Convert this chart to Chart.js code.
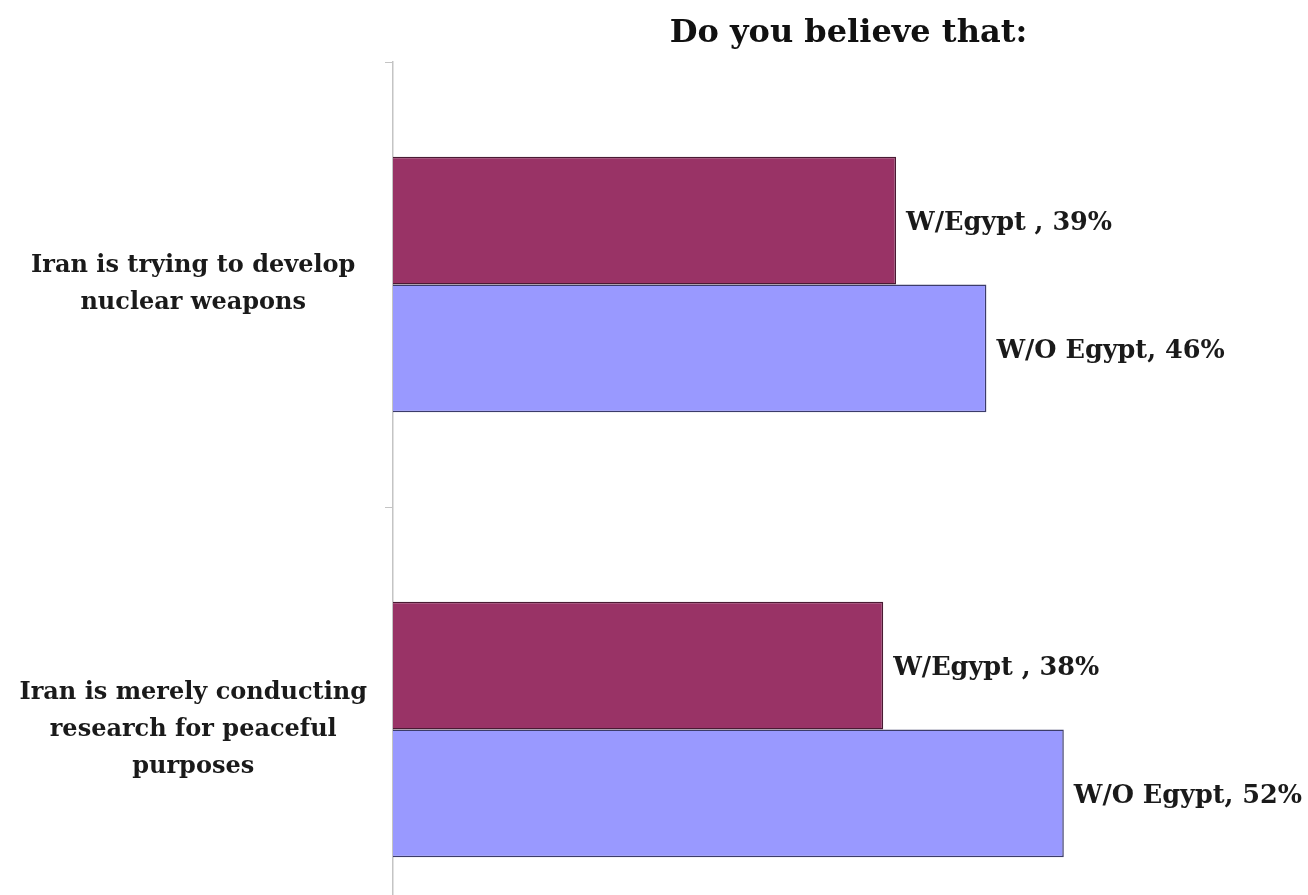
<!DOCTYPE html>
<html>
<head>
<meta charset="utf-8">
<script src="https://cdn.jsdelivr.net/npm/chart.js@4.4.0/dist/chart.umd.min.js"></script>
<style>
  body { margin: 0; background: #fff; overflow: hidden; }
</style>
</head>
<body>
<canvas id="chart" width="1308" height="960"></canvas>
<script>
const categories = [
  ['Iran is trying to develop', 'nuclear weapons'],
  ['Iran is merely conducting', 'research for peaceful', 'purposes']
];
const seriesNames = ['W/Egypt ,', 'W/O Egypt,'];
const withEgypt = [39, 38];
const withoutEgypt = [46, 52];

const serif = '"DejaVu Serif", "Liberation Serif", serif';

// value labels to the right of every bar
const barLabels = {
  id: 'barLabels',
  afterDatasetsDraw(chart) {
    const ctx = chart.ctx;
    ctx.save();
    ctx.font = 'bold 25.5px ' + serif;
    ctx.fillStyle = '#1a1a1a';
    ctx.textBaseline = 'middle';
    chart.data.datasets.forEach((ds, i) => {
      chart.getDatasetMeta(i).data.forEach((bar, j) => {
        ctx.fillText(ds.label + ' ' + ds.data[j] + '%', bar.x + 10, bar.y + 3);
      });
    });
    ctx.restore();
  }
};

// title centred over the plot area
const plotTitle = {
  id: 'plotTitle',
  afterDraw(chart) {
    const ctx = chart.ctx;
    const a = chart.chartArea;
    ctx.save();
    ctx.font = 'bold 32px ' + serif;
    ctx.fillStyle = '#111';
    ctx.textAlign = 'center';
    ctx.textBaseline = 'middle';
    ctx.fillText('Do you believe that:', (a.left + a.right) / 2 + 4, 34);
    ctx.restore();
  }
};

new Chart(document.getElementById('chart'), {
  type: 'bar',
  data: {
    labels: categories,
    datasets: [
      {
        label: seriesNames[0],
        data: withEgypt,
        backgroundColor: '#993366',
        borderColor: '#4a1a33',
        borderWidth: 1.5
      },
      {
        label: seriesNames[1],
        data: withoutEgypt,
        backgroundColor: '#9999ff',
        borderColor: '#3c3c6a',
        borderWidth: 1.5
      }
    ]
  },
  options: {
    indexAxis: 'y',
    responsive: false,
    animation: false,
    categoryPercentage: 0.574,
    barPercentage: 1,
    layout: { padding: { top: 62, right: 12, bottom: 8, left: 0 } },
    plugins: {
      legend: { display: false },
      tooltip: { enabled: false }
    },
    scales: {
      x: { display: false, min: 0, max: 70 },
      y: {
        afterFit(scale) {
          scale.width = 393;
          // let layout padding alone decide the plot's top and bottom
          scale.paddingTop = 0;
          scale.paddingBottom = 0;
        },
        border: { color: '#c4c4c4', width: 1.5 },
        grid: {
          drawOnChartArea: false,
          offset: true,
          tickLength: 8,
          color: '#c4c4c4'
        },
        ticks: {
          crossAlign: 'center',
          color: '#1a1a1a',
          padding: 18,
          font: { family: serif, size: 24, weight: 'bold', lineHeight: 1.54 }
        }
      }
    }
  },
  plugins: [barLabels, plotTitle]
});
</script>
</body>
</html>
